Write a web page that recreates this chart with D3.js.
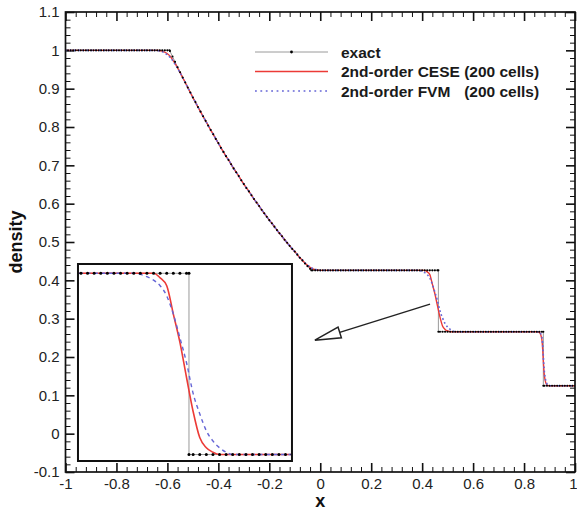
<!DOCTYPE html>
<html><head><meta charset="utf-8">
<script src="https://cdn.jsdelivr.net/npm/d3@7"></script>
<style>
body{margin:0;background:#fff}
svg{display:block}
text{font-family:"Liberation Sans",Arial,Helvetica,sans-serif}
</style>
</head><body>
<svg id="c" width="577" height="511"></svg>
<script>
// ---------- data ----------
// cell positions x = -1 ... 1 (step 0.01)
const xGrid = d3.range(-100, 101).map(i => i / 100);

const exactRho = [
1,1,1,1,1,1,1,1,1,1,
1,1,1,1,1,1,1,1,1,1,
1,1,1,1,1,1,1,1,1,1,
1,1,1,1,1,1,1,1,1,1,
1,0.998,0.984,0.970,0.956,0.943,0.929,0.916,0.903,0.890,
0.877,0.865,0.852,0.840,0.828,0.816,0.804,0.792,0.781,0.769,
0.758,0.746,0.735,0.724,0.714,0.703,0.692,0.682,0.672,0.661,
0.651,0.641,0.632,0.622,0.612,0.603,0.594,0.584,0.575,0.566,
0.557,0.549,0.540,0.531,0.523,0.515,0.506,0.498,0.490,0.482,
0.475,0.467,0.459,0.452,0.444,0.437,0.430,0.426,0.426,0.426,
0.426,0.426,0.426,0.426,0.426,0.426,0.426,0.426,0.426,0.426,
0.426,0.426,0.426,0.426,0.426,0.426,0.426,0.426,0.426,0.426,
0.426,0.426,0.426,0.426,0.426,0.426,0.426,0.426,0.426,0.426,
0.426,0.426,0.426,0.426,0.426,0.426,0.426,0.426,0.426,0.426,
0.426,0.426,0.426,0.426,0.426,0.426,0.426,0.266,0.266,0.266,
0.266,0.266,0.266,0.266,0.266,0.266,0.266,0.266,0.266,0.266,
0.266,0.266,0.266,0.266,0.266,0.266,0.266,0.266,0.266,0.266,
0.266,0.266,0.266,0.266,0.266,0.266,0.266,0.266,0.266,0.266,
0.266,0.266,0.266,0.266,0.266,0.266,0.266,0.266,0.125,0.125,
0.125,0.125,0.125,0.125,0.125,0.125,0.125,0.125,0.125,0.125,
0.125];
// corner / discontinuity points of the exact solution
const exactBreakX   = [-0.5916, -0.0352, 0.4637, 0.4637, 0.8757, 0.8757];
const exactBreakRho = [1, 0.426, 0.426, 0.266, 0.266, 0.125];

const ceseRho = [
1,1,1,1,1,1,1,1,1,1,
1,1,1,1,1,1,1,1,1,1,
1,1,1,1,1,1,1,1,1,1,
1,1,1,1,1,1,1,0.999,0.998,0.995,
0.991,0.985,0.976,0.966,0.954,0.942,0.929,0.916,0.903,0.890,
0.877,0.865,0.852,0.840,0.828,0.816,0.804,0.792,0.781,0.769,
0.758,0.746,0.735,0.724,0.714,0.703,0.692,0.682,0.672,0.661,
0.651,0.641,0.632,0.622,0.612,0.603,0.594,0.584,0.575,0.566,
0.557,0.549,0.540,0.531,0.523,0.515,0.506,0.498,0.490,0.482,
0.475,0.467,0.459,0.452,0.445,0.439,0.434,0.430,0.428,0.427,
0.426,0.426,0.426,0.426,0.426,0.426,0.426,0.426,0.426,0.426,
0.426,0.426,0.426,0.426,0.426,0.426,0.426,0.426,0.426,0.426,
0.426,0.426,0.426,0.426,0.426,0.426,0.426,0.426,0.426,0.426,
0.426,0.426,0.426,0.426,0.426,0.426,0.426,0.426,0.426,0.426,
0.426,0.426,0.422,0.415,0.390,0.365,0.334,0.304,0.281,0.272,
0.268,0.266,0.266,0.266,0.266,0.266,0.266,0.266,0.266,0.266,
0.266,0.266,0.266,0.266,0.266,0.266,0.266,0.266,0.266,0.266,
0.266,0.266,0.266,0.266,0.266,0.266,0.266,0.266,0.266,0.266,
0.266,0.266,0.266,0.266,0.266,0.266,0.264,0.245,0.150,0.127,
0.125,0.125,0.125,0.125,0.125,0.125,0.125,0.125,0.125,0.125,
0.125];

const fvmRho = [
1,1,1,1,1,1,1,1,1,1,
1,1,1,1,1,1,1,1,1,1,
1,1,1,1,1,1,1,1,1,1,
1,1,1,1,1,1,0.999,0.998,0.996,0.993,
0.988,0.982,0.974,0.964,0.953,0.941,0.929,0.916,0.903,0.890,
0.877,0.865,0.852,0.840,0.828,0.816,0.804,0.792,0.781,0.769,
0.758,0.746,0.735,0.724,0.714,0.703,0.692,0.682,0.672,0.661,
0.651,0.641,0.632,0.622,0.612,0.603,0.594,0.584,0.575,0.566,
0.557,0.549,0.540,0.531,0.523,0.515,0.506,0.498,0.490,0.482,
0.475,0.467,0.459,0.453,0.446,0.440,0.435,0.431,0.429,0.427,
0.426,0.426,0.426,0.426,0.426,0.426,0.426,0.426,0.426,0.426,
0.426,0.426,0.426,0.426,0.426,0.426,0.426,0.426,0.426,0.426,
0.426,0.426,0.426,0.426,0.426,0.426,0.426,0.426,0.426,0.426,
0.426,0.426,0.426,0.426,0.426,0.426,0.426,0.426,0.426,0.425,
0.423,0.420,0.415,0.406,0.390,0.369,0.347,0.320,0.302,0.287,
0.278,0.272,0.268,0.266,0.266,0.266,0.266,0.266,0.266,0.266,
0.266,0.266,0.266,0.266,0.266,0.266,0.266,0.266,0.266,0.266,
0.266,0.266,0.266,0.266,0.266,0.266,0.266,0.266,0.266,0.266,
0.266,0.266,0.266,0.266,0.266,0.266,0.265,0.252,0.160,0.130,
0.125,0.125,0.125,0.125,0.125,0.125,0.125,0.125,0.125,0.125,
0.125];

const xTicks = [-1,-0.8,-0.6,-0.4,-0.2,0,0.2,0.4,0.6,0.8,1];
const xTickLabels = ["-1","-0.8","-0.6","-0.4","-0.2","0","0.2","0.4","0.6","0.8","1"];
const yTicks = [-0.1,0,0.1,0.2,0.3,0.4,0.5,0.6,0.7,0.8,0.9,1,1.1];
const yTickLabels = ["-0.1","0","0.1","0.2","0.3","0.4","0.5","0.6","0.7","0.8","0.9","1","1.1"];
const legendLabels = ["exact","2nd-order CESE (200 cells)","2nd-order FVM"];
const legendSuffix = "(200 cells)";
const xTitle = "x", yTitle = "density";

// inset (zoom of the contact discontinuity)
const insetXDomain = [0.2955, 0.6198];
const insetYDomain = [0.2603, 0.4342];
const insetBoxX = [-0.951, -0.111];   // in main-plot data units
const insetBoxY = [-0.0713, 0.4426];
const arrowFrom = [0.431, 0.338];
const arrowTo = [-0.021, 0.244];

// ---------- drawing ----------
const svg = d3.select('#c');
const X0 = 65.5, X1 = 575, Y0 = 12, Y1 = 472;
const x = d3.scaleLinear().domain([-1, 1]).range([X0, X1]);
const y = d3.scaleLinear().domain([-0.1, 1.1]).range([Y1, Y0]);

const RED = "#ec3a36", BLUE = "#6565d6", GRAY = "#9a9a9a";
const TICKFONT = 15;

const exactPts = xGrid.map((v, i) => ({x: v, y: exactRho[i]}))
  .concat(exactBreakX.map((v, i) => ({x: v, y: exactBreakRho[i]})))
  .sort((a, b) => a.x - b.x);
const cesePts = xGrid.map((v, i) => ({x: v, y: ceseRho[i]}));
const fvmPts = xGrid.map((v, i) => ({x: v, y: fvmRho[i]}));

// axes
const xMinor = d3.range(-1, 1.0001, 0.04).filter(v => Math.abs(v * 5 - Math.round(v * 5)) > 1e-6);
const yMinor = d3.range(-0.1, 1.1001, 0.02).filter(v => Math.abs(v * 10 - Math.round(v * 10)) > 1e-6);

function styleAxis(g, w) {
  g.select('.domain').remove();
  g.selectAll('line').attr('stroke', '#111').attr('stroke-width', w);
  g.selectAll('text').attr('font-size', TICKFONT).attr('fill', '#222')
    .attr('font-family', '"Liberation Sans",Arial,Helvetica,sans-serif');
}
const fmtX = (d) => xTickLabels[xTicks.findIndex(t => Math.abs(t - d) < 1e-9)];
const fmtY = (d) => yTickLabels[yTicks.findIndex(t => Math.abs(t - d) < 1e-9)];

svg.append('g').attr('transform', `translate(0,${Y1})`)
  .call(d3.axisBottom(x).tickValues(xTicks).tickFormat(fmtX).tickSize(-9).tickSizeOuter(0).tickPadding(6))
  .call(g => styleAxis(g, 1.6))
  .call(g => g.selectAll('.tick text').filter(d => d === 1).attr('text-anchor', 'end').attr('x', 2));
svg.append('g').attr('transform', `translate(0,${Y1})`)
  .call(d3.axisBottom(x).tickValues(xMinor).tickFormat('').tickSize(-5).tickSizeOuter(0))
  .call(g => styleAxis(g, 1));
svg.append('g').attr('transform', `translate(0,${Y0})`)
  .call(d3.axisTop(x).tickValues(xTicks).tickFormat('').tickSize(-9).tickSizeOuter(0))
  .call(g => styleAxis(g, 1.6));
svg.append('g').attr('transform', `translate(0,${Y0})`)
  .call(d3.axisTop(x).tickValues(xMinor).tickFormat('').tickSize(-5).tickSizeOuter(0))
  .call(g => styleAxis(g, 1));
svg.append('g').attr('transform', `translate(${X0},0)`)
  .call(d3.axisLeft(y).tickValues(yTicks).tickFormat(fmtY).tickSize(-9).tickSizeOuter(0).tickPadding(6))
  .call(g => styleAxis(g, 1.6));
svg.append('g').attr('transform', `translate(${X0},0)`)
  .call(d3.axisLeft(y).tickValues(yMinor).tickFormat('').tickSize(-5).tickSizeOuter(0))
  .call(g => styleAxis(g, 1));
svg.append('g').attr('transform', `translate(${X1},0)`)
  .call(d3.axisRight(y).tickValues(yTicks).tickFormat('').tickSize(-9).tickSizeOuter(0))
  .call(g => styleAxis(g, 1.6));
svg.append('g').attr('transform', `translate(${X1},0)`)
  .call(d3.axisRight(y).tickValues(yMinor).tickFormat('').tickSize(-5).tickSizeOuter(0))
  .call(g => styleAxis(g, 1));

// clip for main plot
const defs = svg.append('defs');
defs.append('clipPath').attr('id', 'mainClip').append('rect')
  .attr('x', X0).attr('y', Y0).attr('width', X1 - X0).attr('height', Y1 - Y0);

function drawSeries(g, sx, sy, o) {
  const lin = d3.line().x(d => sx(d.x)).y(d => sy(d.y));
  const smooth = d3.line().x(d => sx(d.x)).y(d => sy(d.y)).curve(d3.curveMonotoneX);
  g.append('path').datum(exactPts).attr('d', lin).attr('fill', 'none')
    .attr('stroke', GRAY).attr('stroke-width', 1);
  g.append('path').datum(cesePts).attr('d', smooth).attr('fill', 'none')
    .attr('stroke', RED).attr('stroke-width', o.redW);
  g.append('path').datum(fvmPts).attr('d', smooth).attr('fill', 'none')
    .attr('stroke', BLUE).attr('stroke-width', o.blueW).attr('stroke-dasharray', o.dash);
  g.selectAll('circle.ex').data(exactPts).join('circle').attr('class', 'ex')
    .attr('cx', d => sx(d.x)).attr('cy', d => sy(d.y)).attr('r', o.r).attr('fill', '#000');
}

const main = svg.append('g').attr('clip-path', 'url(#mainClip)');
drawSeries(main, x, y, {redW: 1.4, blueW: 1.6, dash: '1.8,2.4', r: 1.05});

// frame
svg.append('rect').attr('x', X0).attr('y', Y0).attr('width', X1 - X0).attr('height', Y1 - Y0)
  .attr('fill', 'none').attr('stroke', '#111').attr('stroke-width', 1.7);

// inset
const bx0 = x(insetBoxX[0]), bx1 = x(insetBoxX[1]);
const by0 = y(insetBoxY[1]), by1 = y(insetBoxY[0]);
const ix = d3.scaleLinear().domain(insetXDomain).range([bx0, bx1]);
const iy = d3.scaleLinear().domain(insetYDomain).range([by1, by0]);
defs.append('clipPath').attr('id', 'insetClip').append('rect')
  .attr('x', bx0).attr('y', by0).attr('width', bx1 - bx0).attr('height', by1 - by0);
svg.append('rect').attr('x', bx0).attr('y', by0).attr('width', bx1 - bx0).attr('height', by1 - by0)
  .attr('fill', '#fff');
const inset = svg.append('g').attr('clip-path', 'url(#insetClip)');
drawSeries(inset, ix, iy, {redW: 1.6, blueW: 1.4, dash: '4,3.5', r: 1.5});
svg.append('rect').attr('x', bx0).attr('y', by0).attr('width', bx1 - bx0).attr('height', by1 - by0)
  .attr('fill', 'none').attr('stroke', '#111').attr('stroke-width', 2);

// arrow
{
  const sx = x(arrowFrom[0]), sy = y(arrowFrom[1]);
  const tx = x(arrowTo[0]), ty = y(arrowTo[1]);
  const dx = tx - sx, dy = ty - sy, L = Math.hypot(dx, dy);
  const ux = dx / L, uy = dy / L, px = -uy, py = ux;
  const hl = 26, hw = 5.6;
  const bxm = tx - ux * hl, bym = ty - uy * hl;
  svg.append('line').attr('x1', sx).attr('y1', sy).attr('x2', bxm).attr('y2', bym)
    .attr('stroke', '#222').attr('stroke-width', 1.5);
  svg.append('path')
    .attr('d', `M${tx},${ty}L${bxm + px * hw},${bym + py * hw}L${bxm - px * hw},${bym - py * hw}Z`)
    .attr('fill', '#fff').attr('stroke', '#222').attr('stroke-width', 1.5).attr('stroke-linejoin', 'miter');
}

// legend
const legY = [52, 71.5, 91];
const lx0 = 255, lx1 = 328, ltx = 341;
const lg = svg.append('g');
lg.append('line').attr('x1', lx0).attr('x2', lx1).attr('y1', legY[0]).attr('y2', legY[0])
  .attr('stroke', GRAY).attr('stroke-width', 1);
lg.append('circle').attr('cx', (lx0 + lx1) / 2).attr('cy', legY[0]).attr('r', 1.4).attr('fill', '#000');
lg.append('line').attr('x1', lx0).attr('x2', lx1).attr('y1', legY[1]).attr('y2', legY[1])
  .attr('stroke', RED).attr('stroke-width', 1.4);
lg.append('line').attr('x1', lx0).attr('x2', lx1).attr('y1', legY[2]).attr('y2', legY[2])
  .attr('stroke', BLUE).attr('stroke-width', 1.6).attr('stroke-dasharray', '1.8,3.6');
const legTexts = legendLabels.map((t, i) => lg.append('text').attr('x', ltx).attr('y', legY[i]).attr('dy', '0.36em')
  .attr('font-size', 15.5).attr('font-weight', 'bold').attr('fill', '#1a1a1a').text(t));
{
  const node = legTexts[1].node();
  const idx = legendLabels[1].indexOf('(');
  const off = node.getSubStringLength(0, idx);
  lg.append('text').attr('x', ltx + off).attr('y', legY[2]).attr('dy', '0.36em')
    .attr('font-size', 15.5).attr('font-weight', 'bold').attr('fill', '#1a1a1a').text(legendSuffix);
}

// axis titles
svg.append('text').attr('x', (X0 + X1) / 2).attr('y', 507).attr('text-anchor', 'middle')
  .attr('font-size', 18).attr('font-weight', 'bold').attr('fill', '#111').text(xTitle);
svg.append('text').attr('transform', `translate(22,${(Y0 + Y1) / 2}) rotate(-90)`).attr('text-anchor', 'middle')
  .attr('font-size', 18).attr('font-weight', 'bold').attr('fill', '#111').text(yTitle);
</script>
</body></html>
